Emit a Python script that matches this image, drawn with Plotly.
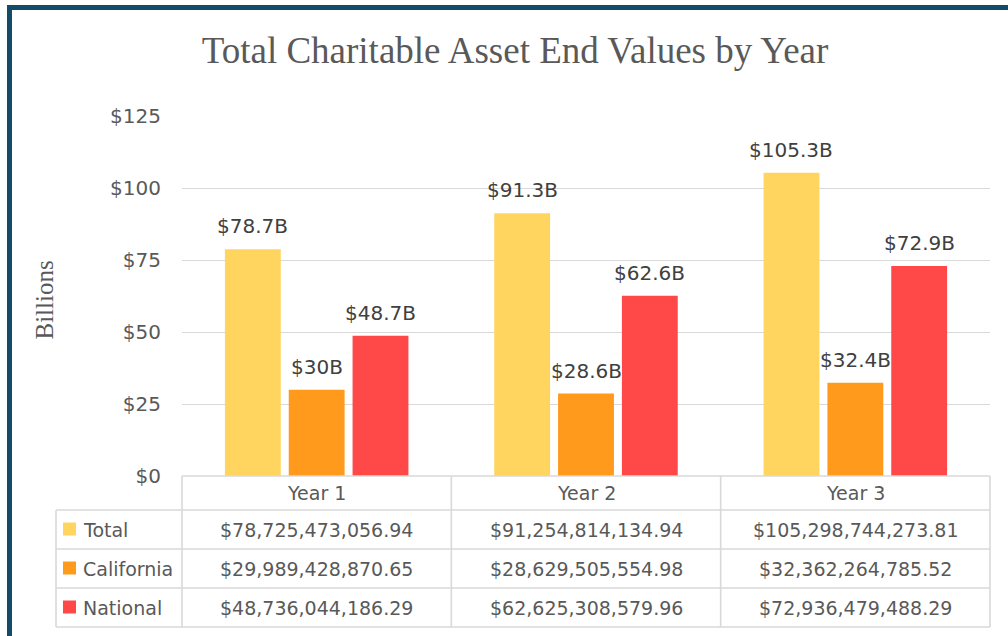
import plotly.graph_objects as go

# ---- data ----
years = ["Year 1", "Year 2", "Year 3"]
series_names = ["Total", "California", "National"]
total_values = [78725473056.94, 91254814134.94, 105298744273.81]
california_values = [29989428870.65, 28629505554.98, 32362264785.52]
national_values = [48736044186.29, 62625308579.96, 72936479488.29]
series_colors = ["#FFD55F", "#FF9A1C", "#FF4949"]
y_ticks = [0, 25, 50, 75, 100, 125]
y_tick_text = [f"${v}" for v in y_ticks]

series_values = [total_values, california_values, national_values]

# ---- layout geometry (pixels) ----
W, H = 1008, 636
L, R, T, B = 182, 18, 116, 160
PW, PH = W - L - R, H - T - B
BARGAP, GROUPGAP = 0.289, 0.125


def py(p):  # pixel y -> paper y
    return (H - B - p) / PH


def px(p):  # pixel x -> paper x
    return (p - L) / PW


def fmt_b(v):
    b = round(v / 1e9, 1)
    s = f"{b:.1f}"
    if s.endswith(".0"):
        s = s[:-2]
    return f"${s}B"


def fmt_full(v):
    return f"${v:,.2f}"


FONT = "DejaVu Sans"
GREY = "#595959"
LINE = "#D9D9D9"
TSIZE = 19

fig = go.Figure()
for name, vals, col in zip(series_names, series_values, series_colors):
    fig.add_trace(go.Bar(
        x=years, y=[v / 1e9 for v in vals], name=name,
        marker=dict(color=col, line=dict(width=0)),
        hoverinfo="skip",
    ))

annotations = []
shapes = []

# data labels above bars
slot_px = PW / len(years) * (1 - BARGAP) / len(series_names)
for si, vals in enumerate(series_values):
    for yi, v in enumerate(vals):
        annotations.append(dict(
            x=years[yi], y=v / 1e9, xref="x", yref="y",
            text=fmt_b(v), showarrow=False, yanchor="bottom",
            xshift=(si - 1) * slot_px, yshift=9,
            font=dict(family=FONT, size=20, color="#404040"),
        ))

# data table geometry
header_top, header_bot = 476, 510
row_edges = [510, 549, 588, 627]
label_left = 56

# header labels
for yi, yr in enumerate(years):
    annotations.append(dict(
        x=yr, y=py((header_top + header_bot) / 2), xref="x", yref="paper",
        text=yr, showarrow=False, yanchor="middle",
        font=dict(family=FONT, size=TSIZE, color=GREY),
    ))

# rows
for si, (name, vals, col) in enumerate(zip(series_names, series_values, series_colors)):
    yc = (row_edges[si] + row_edges[si + 1]) / 2
    # swatch
    shapes.append(dict(
        type="rect", xref="paper", yref="paper",
        x0=px(63), x1=px(76), y0=py(yc - 7), y1=py(yc + 6),
        fillcolor=col, line=dict(width=0),
    ))
    annotations.append(dict(
        x=px(81), y=py(yc), xref="paper", yref="paper",
        text=name, showarrow=False, xanchor="left", yanchor="middle",
        font=dict(family=FONT, size=TSIZE, color=GREY),
    ))
    for yi, v in enumerate(vals):
        annotations.append(dict(
            x=years[yi], y=py(yc), xref="x", yref="paper",
            text=fmt_full(v), showarrow=False, yanchor="middle",
            font=dict(family=FONT, size=TSIZE, color=GREY),
        ))

# table grid lines
lw = 1.6
shapes.append(dict(type="line", xref="paper", yref="paper",
                   x0=0, x1=1, y0=py(header_top), y1=py(header_top),
                   line=dict(color=LINE, width=lw)))
for e in row_edges:
    shapes.append(dict(type="line", xref="paper", yref="paper",
                       x0=px(label_left), x1=1, y0=py(e), y1=py(e),
                       line=dict(color=LINE, width=lw)))
for k in range(len(years) + 1):
    xv = k / len(years)
    shapes.append(dict(type="line", xref="paper", yref="paper",
                       x0=xv, x1=xv, y0=py(header_top), y1=py(row_edges[-1]),
                       line=dict(color=LINE, width=lw)))
shapes.append(dict(type="line", xref="paper", yref="paper",
                   x0=px(label_left), x1=px(label_left),
                   y0=py(row_edges[0]), y1=py(row_edges[-1]),
                   line=dict(color=LINE, width=lw)))

# outer frame (left and top)
FRAME = "#124C69"
shapes.append(dict(type="rect", xref="paper", yref="paper",
                   x0=px(7), x1=px(12), y0=py(H), y1=py(5),
                   fillcolor=FRAME, line=dict(width=0)))
shapes.append(dict(type="rect", xref="paper", yref="paper",
                   x0=px(7), x1=px(W), y0=py(10), y1=py(5),
                   fillcolor=FRAME, line=dict(width=0)))

# y-axis title
annotations.append(dict(
    x=px(28), y=py(300), xref="paper", yref="paper",
    text="Billions", textangle=-90, showarrow=False,
    font=dict(family="Liberation Serif", size=25, color=GREY),
))

fig.update_layout(
    width=W, height=H,
    margin=dict(l=L, r=R, t=T, b=B, autoexpand=False),
    paper_bgcolor="white", plot_bgcolor="white",
    title=dict(text="Total Charitable Asset End Values by Year",
               x=515 / W, xanchor="center", xref="container",
               y=1 - 50 / H, yanchor="middle", yref="container",
               font=dict(family="Liberation Serif", size=37, color=GREY)),
    barmode="group", bargap=BARGAP, bargroupgap=GROUPGAP,
    showlegend=False,
    xaxis=dict(showticklabels=False, showgrid=False, zeroline=False,
               showline=False, ticks=""),
    yaxis=dict(range=[0, 125], tickmode="array", tickvals=y_ticks,
               ticktext=y_tick_text,
               showgrid=True, gridcolor=LINE, gridwidth=1.3,
               zeroline=False, showline=False,
               ticks="outside", ticklen=16, tickcolor="rgba(0,0,0,0)",
               tickfont=dict(family=FONT, size=20, color=GREY)),
    annotations=annotations,
    shapes=shapes,
)

fig.write_html(
    "out.html",
    config={"displayModeBar": False},
    post_script="document.body.style.margin='0';document.body.style.overflow='hidden';",
)
